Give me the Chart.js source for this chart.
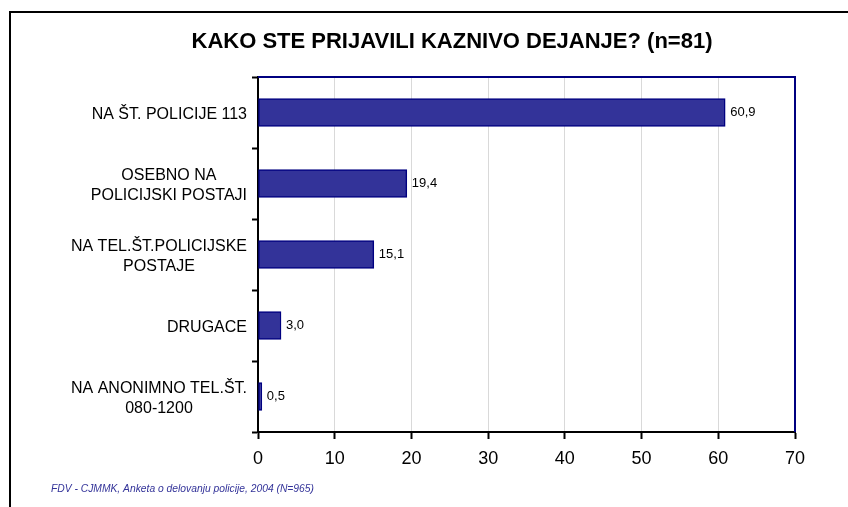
<!DOCTYPE html>
<html>
<head>
<meta charset="utf-8">
<script src="https://cdn.jsdelivr.net/npm/chart.js@4/dist/chart.umd.min.js"></script>
<style>
  html, body { margin: 0; padding: 0; background: #fff; overflow: hidden; }
  #wrap { width: 848px; height: 507px; position: relative; }
</style>
</head>
<body>
<div id="wrap"><canvas id="myChart" width="848" height="507"></canvas></div>
<script>
const naslov = 'KAKO STE PRIJAVILI KAZNIVO DEJANJE? (n=81)';
const vir = 'FDV - CJMMK, Anketa o delovanju policije, 2004 (N=965)';
const kategorije = [
  ['NA ŠT. POLICIJE 113'],
  ['OSEBNO NA', 'POLICIJSKI POSTAJI'],
  ['NA TEL.ŠT.POLICIJSKE', 'POSTAJE'],
  ['DRUGACE'],
  ['NA ANONIMNO TEL.ŠT.', '080-1200']
];
const vrednosti = [60.9, 19.4, 15.1, 3.0, 0.5];
const xMin = 0;
const xMax = 70;
const xKorak = 10;

// okvir, naslov in vir
const okvirPlugin = {
  id: 'okvir',
  beforeDraw(chart) {
    const ctx = chart.ctx;
    ctx.save();
    ctx.fillStyle = '#fff';
    ctx.fillRect(0, 0, chart.width, chart.height);
    ctx.strokeStyle = '#000';
    ctx.lineWidth = 2;
    ctx.strokeRect(10, 12, 900, 600);
    ctx.restore();
  },
  afterDraw(chart) {
    const ctx = chart.ctx;
    const a = chart.chartArea;
    ctx.save();
    // zgornji in desni rob
    ctx.strokeStyle = '#000080';
    ctx.lineWidth = 2;
    ctx.beginPath();
    ctx.moveTo(a.left, a.top);
    ctx.lineTo(a.right, a.top);
    ctx.lineTo(a.right, a.bottom);
    ctx.stroke();

    ctx.fillStyle = '#000';
    ctx.font = 'bold 22px Arial, "Liberation Sans", sans-serif';
    ctx.textAlign = 'center';
    ctx.textBaseline = 'middle';
    ctx.fillText(naslov, 452, 42);

    ctx.fillStyle = '#333399';
    ctx.font = 'italic 10.3px Arial, "Liberation Sans", sans-serif';
    ctx.textAlign = 'left';
    ctx.textBaseline = 'alphabetic';
    ctx.fillText(vir, 51, 492);

    // oznake kategorij
    const y = chart.scales.y;
    ctx.fillStyle = '#000';
    ctx.font = '16px Arial, "Liberation Sans", sans-serif';
    ctx.textAlign = 'center';
    ctx.textBaseline = 'middle';
    kategorije.forEach((vrstice, i) => {
      const sirina = Math.max(...vrstice.map(t => ctx.measureText(t).width));
      const cx = 247 - sirina / 2;
      const cy = y.getPixelForValue(i) + 2;
      vrstice.forEach((t, j) => {
        ctx.fillText(t, cx, cy + (j - (vrstice.length - 1) / 2) * 20);
      });
    });

    // vrednosti ob stolpcih
    const meta = chart.getDatasetMeta(0);
    ctx.font = '13px Arial, "Liberation Sans", sans-serif';
    ctx.textAlign = 'left';
    meta.data.forEach((bar, i) => {
      ctx.fillText(vrednosti[i].toFixed(1).replace('.', ','), bar.x + 5, bar.y);
    });
    ctx.restore();
  }
};

const ctx_live = document.getElementById('myChart');
const myChart = new Chart(ctx_live, {
  type: 'bar',
  data: {
    labels: kategorije,
    datasets: [{
      data: vrednosti,
      backgroundColor: '#333399',
      borderColor: '#000080',
      borderWidth: 1.5,
      borderSkipped: false,
      barThickness: 28
    }]
  },
  options: {
    indexAxis: 'y',
    responsive: false,
    animation: false,
    layout: { padding: { top: 77, right: 53, left: 0, bottom: 0 } },
    plugins: {
      legend: { display: false },
      title: { display: false },
      tooltip: { enabled: false }
    },
    scales: {
      x: {
        min: xMin,
        max: xMax,
        ticks: {
          stepSize: xKorak,
          color: '#000',
          padding: 9,
          font: { size: 18, family: 'Arial, "Liberation Sans", sans-serif' }
        },
        grid: { color: '#d9d9d9', lineWidth: 1, tickColor: '#000', tickLength: 7, tickWidth: 2 },
        border: { color: '#000', width: 2 },
        afterFit(s) { s.height = 75; }
      },
      y: {
        ticks: { display: false },
        grid: { drawOnChartArea: false, tickColor: '#000', tickLength: 6, tickWidth: 2, offset: true },
        border: { color: '#000', width: 2 },
        afterFit(s) { s.width = 258; }
      }
    }
  },
  plugins: [okvirPlugin]
});
</script>
</body>
</html>
